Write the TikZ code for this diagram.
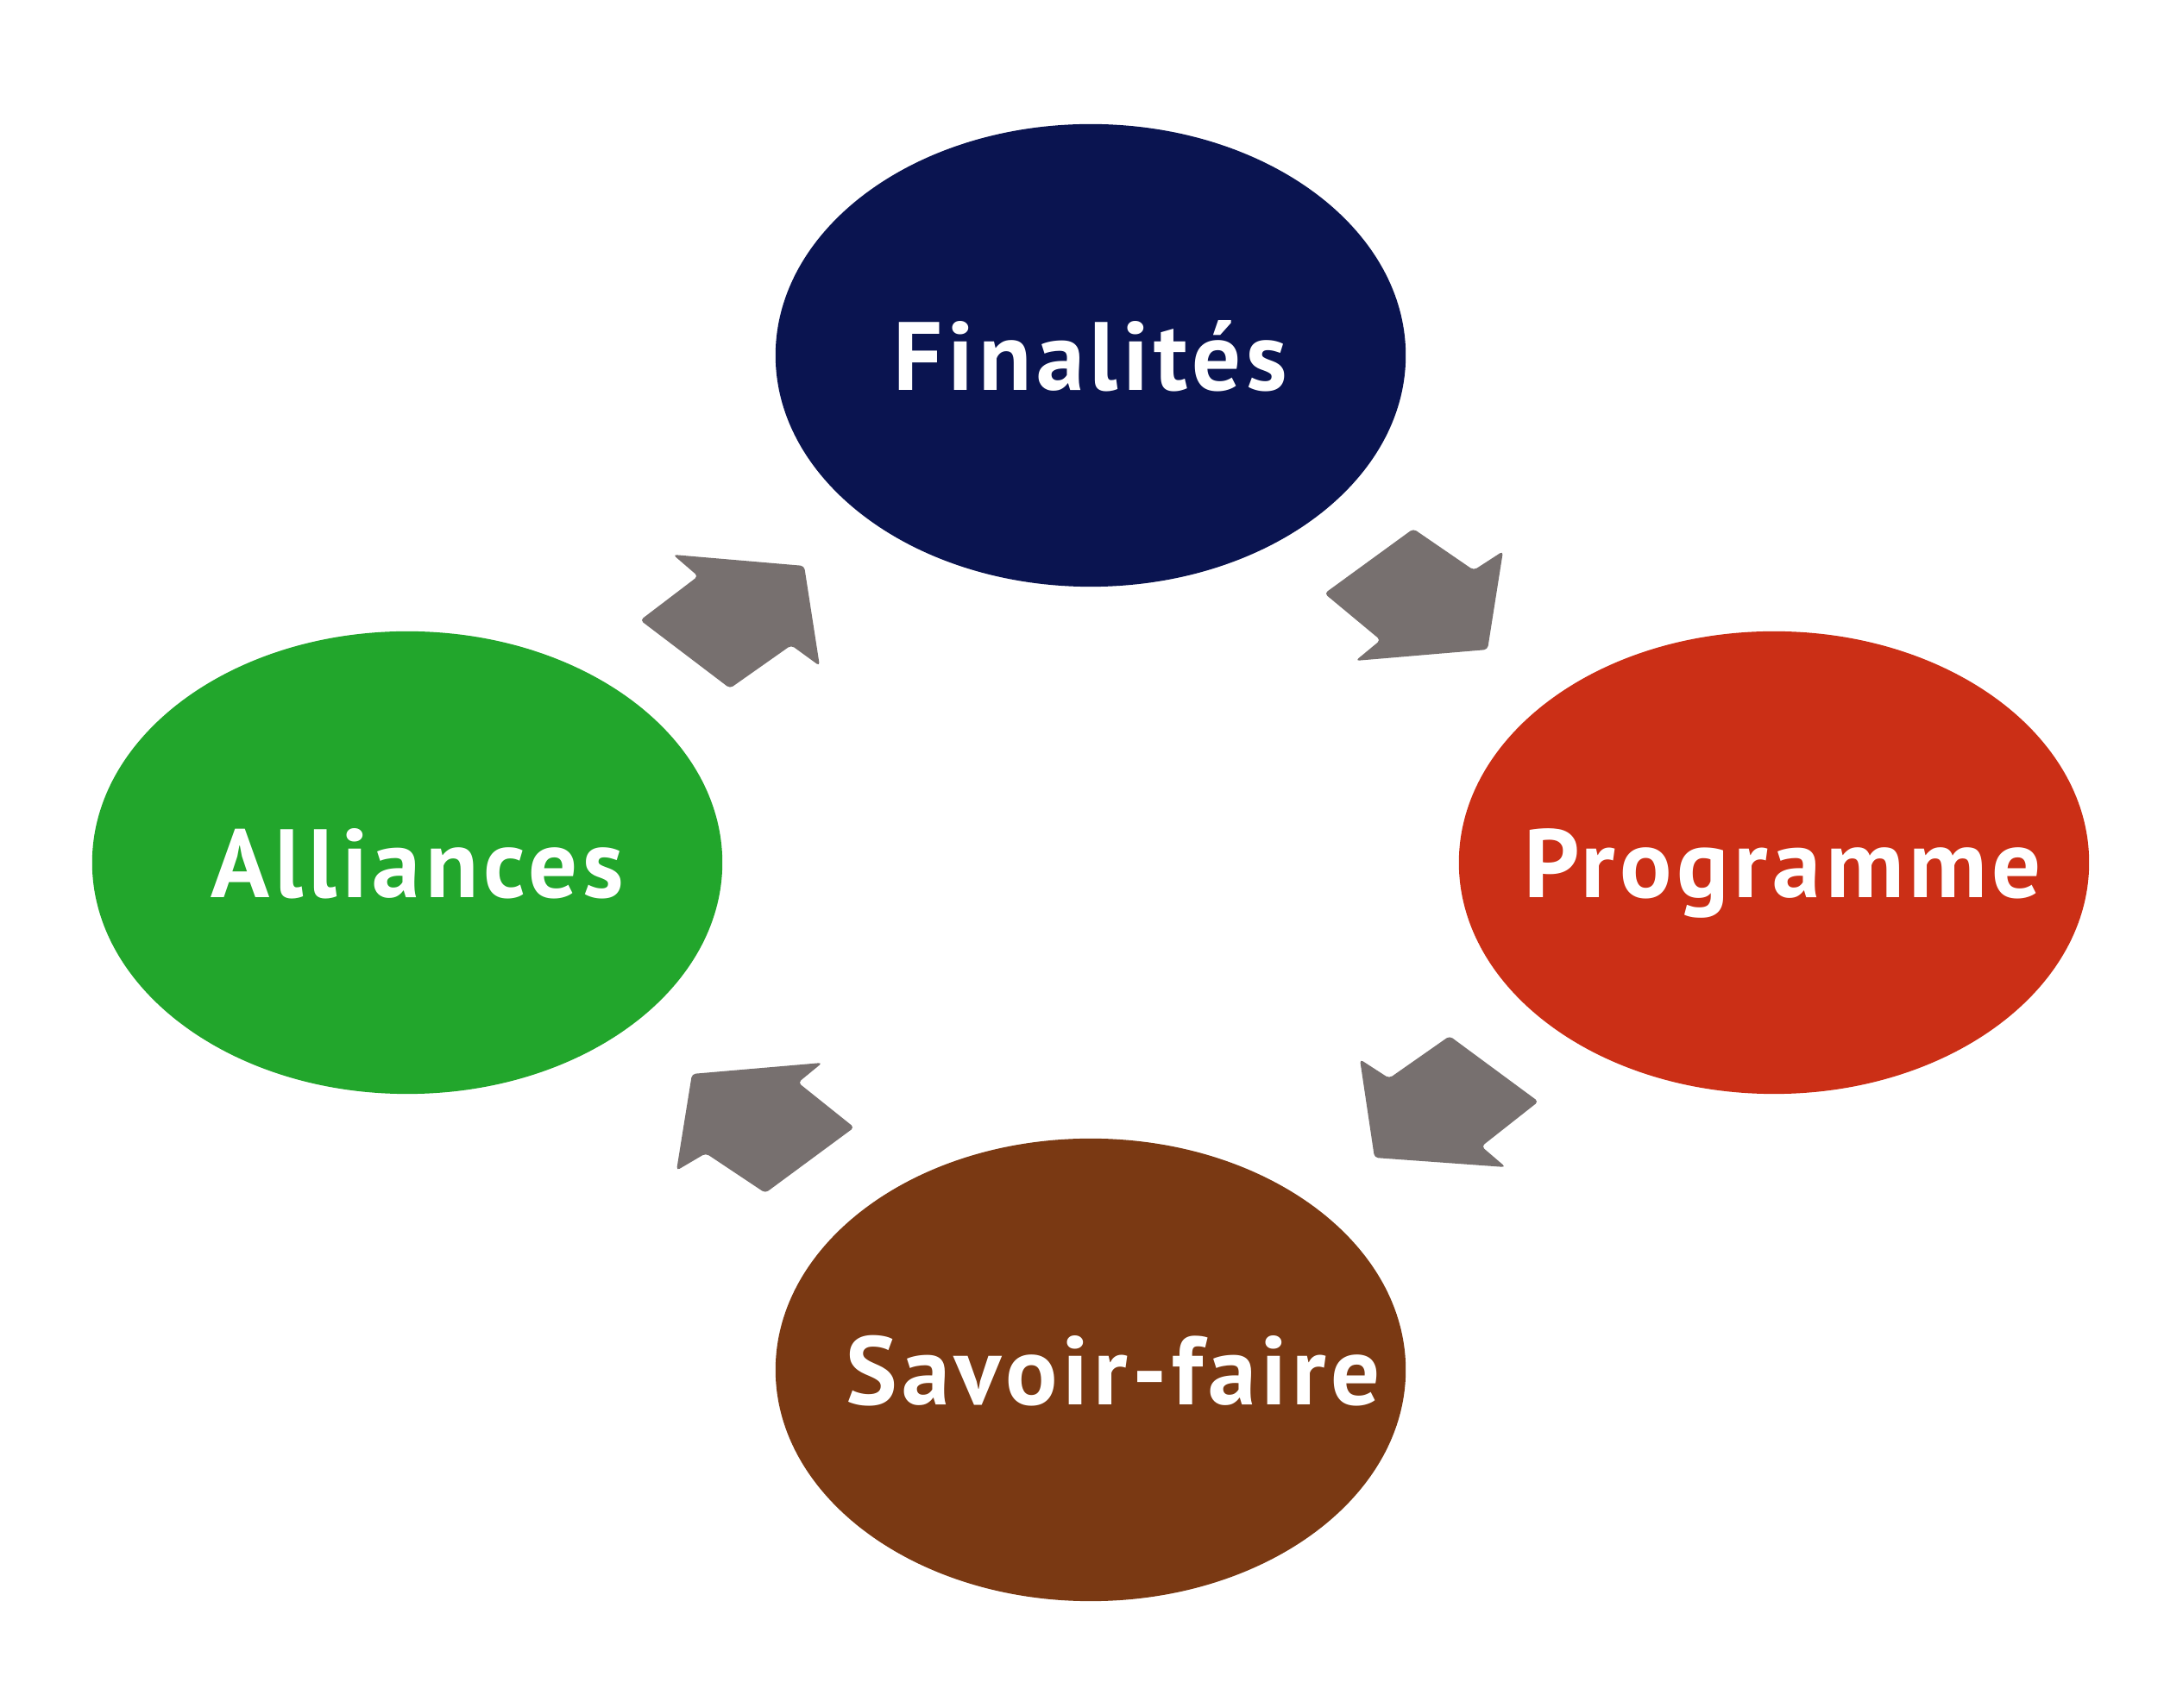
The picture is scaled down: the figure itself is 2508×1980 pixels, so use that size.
\documentclass[tikz,border=0pt]{standalone}
\usepackage{fontspec}
\setmainfont{PT Sans}[LetterSpace=5]
\usepackage{tikz}
\usetikzlibrary{shapes.geometric}
\definecolor{navy}{HTML}{0A1450}
\definecolor{brick}{HTML}{CB2F16}
\definecolor{leaf}{HTML}{22A62C}
\definecolor{bark}{HTML}{7A3913}
\definecolor{stone}{HTML}{77706F}
\tikzset{
  blob/.style={ellipse,draw=none,minimum width=7.3cm,minimum height=5.36cm,inner sep=0pt},
  navyblob/.style={blob,fill=navy},
  brickblob/.style={blob,fill=brick},
  leafblob/.style={blob,fill=leaf},
  barkblob/.style={blob,fill=bark},
  caption/.style={text=white,font=\fontsize{32}{36}\selectfont\bfseries,
    text height=0.8cm,text depth=0pt,inner sep=0pt},
  cyclearrow/.style={fill=stone,draw=none,rounded corners=1.2pt}
}

\begin{document}
\begin{tikzpicture}[x=0.01cm,y=-0.01cm]
  \useasboundingbox (0,0) rectangle (2508,1980);
  % the four stages
  \node[navyblob,label={[caption]center:Finalités}] (fin) at (1264,412) {};
  \node[brickblob,label={[caption,xshift=0.1cm]center:Programme}] (prog) at (2056,1000) {};
  \node[barkblob,label={[caption,xshift=0.26cm]center:Savoir-faire}] (savoir) at (1264,1588) {};
  \node[leafblob,label={[caption,xshift=0.12cm]center:Alliances}] (alli) at (472,1000) {};
  % block arrows between them
  \fill[cyclearrow] (780,643) -- (932,656) -- (950,772) -- (917,748) -- (846,798) -- (742,719) -- (809,668) -- cycle;
  \fill[cyclearrow] (1638,613) -- (1708,661) -- (1742,639) -- (1724,753) -- (1571,766) -- (1600,742) -- (1535,688) -- cycle;
  \fill[cyclearrow] (1680,1201) -- (1783,1277) -- (1717,1329) -- (1745,1353) -- (1593,1342) -- (1576,1228) -- (1610,1250) -- cycle;
  \fill[cyclearrow] (953,1232) -- (925,1255) -- (990,1307) -- (887,1383) -- (818,1337) -- (784,1357) -- (802,1245) -- cycle;
\end{tikzpicture}
\end{document}
